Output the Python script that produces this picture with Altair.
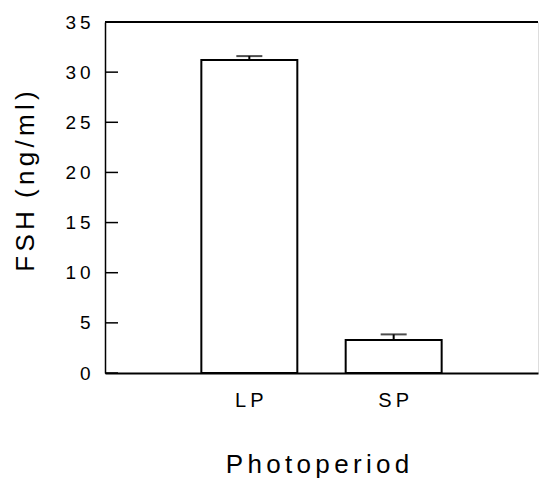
import altair as alt
import pandas as pd

categories = ["LP", "SP"]
fsh_mean = [31.2, 3.3]
fsh_sem = [0.4, 0.55]
y_ticks = [0, 5, 10, 15, 20, 25, 30, 35]

W, H = 433, 351
FONT = "Liberation Sans"
TS = "\u2009"
TT = "\u2006"

df = pd.DataFrame({"period": categories, "mean": fsh_mean, "sem": fsh_sem})
df["upper"] = df["mean"] + df["sem"]
ticks_df = pd.DataFrame({"v": y_ticks})

xscale = alt.Scale(domain=categories, paddingInner=0.335, paddingOuter=0.6675)
yscale = alt.Scale(domain=[0, 35], nice=False, zero=True)

x_axis = alt.Axis(
    title=TT.join("Photoperiod"), labelAngle=0, ticks=False, domain=True,
    domainColor="black", domainWidth=2, labelFont=FONT, labelFontSize=20,
    labelColor="black", labelPadding=17,
    labelExpr=f"join(split(datum.label, ''), '{TS}')",
    titleFont=FONT, titleFontSize=26, titleFontWeight="normal", titleColor="black",
    titleX=212, titleY=99, titleBaseline="alphabetic", titleAlign="center",
)
y_title = TT.join("FSH") + "\u2002" + TT.join("(ng/ml)")
y_axis = alt.Axis(
    title=y_title, values=y_ticks, ticks=False, grid=False, domain=True,
    domainColor="black", domainWidth=1.5, labelFont=FONT, labelFontSize=19,
    labelColor="black", labelPadding=15,
    labelExpr=f"join(split(datum.label, ''), '{TS}')",
    titleFont=FONT, titleFontSize=26, titleFontWeight="normal", titleColor="black",
    titleX=-72, titleY=159, titleAngle=270, titleBaseline="alphabetic", titleAlign="center",
)

base = alt.Chart(df)
bars = base.mark_bar(fill="white", stroke="black", strokeWidth=2).encode(
    x=alt.X("period:N", scale=xscale, sort=categories, axis=x_axis),
    y=alt.Y("mean:Q", scale=yscale, axis=y_axis),
)
err = base.mark_rule(color="black", strokeWidth=2).encode(
    x=alt.X("period:N", scale=xscale, sort=categories),
    y=alt.Y("mean:Q", scale=yscale),
    y2="upper:Q",
)
cap = base.mark_tick(color="black", thickness=2, size=26, orient="horizontal").encode(
    x=alt.X("period:N", scale=xscale, sort=categories),
    y=alt.Y("upper:Q", scale=yscale),
)
inticks = alt.Chart(ticks_df).mark_rule(color="black", strokeWidth=1.5).encode(
    y=alt.Y("v:Q", scale=yscale),
    x=alt.value(0), x2=alt.value(13),
)
top = alt.Chart(ticks_df).mark_rule(color="black", strokeWidth=2).encode(
    y=alt.datum(35), x=alt.value(0), x2=alt.value(W),
)

chart = alt.layer(bars, err, cap, inticks, top).properties(
    width=W, height=H,
    autosize=alt.AutoSizeParams(type="none"),
    padding={"left": 105, "top": 22, "right": 1, "bottom": 105},
).configure_view(stroke=None).configure(background="white")

chart.save("out.html", embed_options={"renderer": "svg", "actions": False})
